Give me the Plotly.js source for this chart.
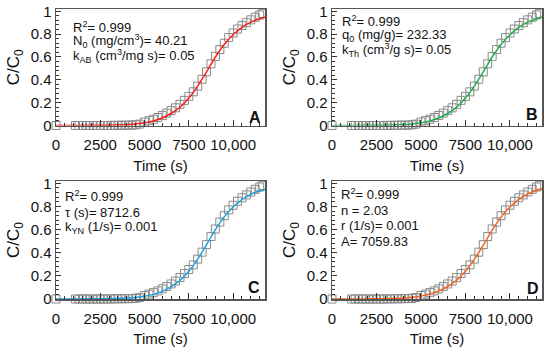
<!DOCTYPE html>
<html>
<head>
<meta charset="utf-8">
<script src="https://cdn.plot.ly/plotly-3.0.1.min.js"></script>
<style>html,body{margin:0;padding:0;background:#fff}#chart{width:550px;height:352px}</style>
</head>
<body>
<div id="chart"></div>
<script>
// Experimental data (shared by all panels)
var timeData = [0, 1100, 1300, 1500, 1700, 1900, 2100, 2300, 2500, 2700, 2900, 3100, 3300, 3500, 3700, 3900, 4100, 4300, 4500, 4700,
                5000, 5250, 5500, 5750, 6000, 6250, 6500, 6750, 7000, 7250, 7500, 7750, 8000, 8250, 8500, 8750, 9000, 9250, 9500, 9750, 10000, 10250, 10500, 10750, 11000, 11250, 11500, 11650];
var ccData = [0, 0, 0, 0, 0, 0, 0, 0, 0, 0, 0, 0.001, 0.001, 0.002, 0.002, 0.003, 0.003, 0.004, 0.006, 0.012,
              0.03, 0.042, 0.055, 0.07, 0.088, 0.108, 0.13, 0.155, 0.185, 0.22, 0.255, 0.295, 0.345, 0.405, 0.47, 0.54, 0.605, 0.665, 0.72, 0.77, 0.81, 0.845, 0.875, 0.9, 0.925, 0.948, 0.968, 0.98];

// Model curves
var timeFit = [0, 500, 1000, 1500, 2000, 2500, 3000, 3500, 4000, 4500, 5000, 5500, 6000, 6500, 7000, 7500, 8000, 8500, 9000, 9500, 10000, 10500, 11000, 11500, 11800];
var fitA = [0, 0, 0.0005, 0.001, 0.0015, 0.002, 0.003, 0.005, 0.008, 0.014, 0.024, 0.04, 0.066, 0.105, 0.16, 0.24, 0.345, 0.47, 0.6, 0.71, 0.795, 0.86, 0.905, 0.935, 0.95];
var fitB = [0, 0, 0.0005, 0.001, 0.0015, 0.002, 0.003, 0.005, 0.008, 0.014, 0.024, 0.04, 0.066, 0.105, 0.16, 0.24, 0.345, 0.47, 0.6, 0.71, 0.795, 0.86, 0.905, 0.935, 0.95];
var fitC = [0, 0, 0.0005, 0.001, 0.0015, 0.002, 0.003, 0.005, 0.008, 0.014, 0.024, 0.04, 0.066, 0.105, 0.16, 0.24, 0.345, 0.47, 0.6, 0.71, 0.795, 0.86, 0.905, 0.935, 0.95];
var fitD = [0, 0, 0, 0, 0.001, 0.002, 0.003, 0.005, 0.008, 0.015, 0.026, 0.043, 0.07, 0.108, 0.162, 0.24, 0.343, 0.465, 0.595, 0.708, 0.795, 0.862, 0.908, 0.94, 0.955];

var fitColors = ['#ff1a1a', '#1fae4b', '#1aa3e0', '#f4641e'];
var panelLetters = ['A', 'B', 'C', 'D'];
var xTickVals = [0, 2500, 5000, 7500, 10000];
var xTickText = ['0', '2500', '5000', '7500', '10,000'];
var yTickVals = [0, 0.2, 0.4, 0.6, 0.8, 1];
var yTickText = ['0', '0.2', '0.4', '0.6', '0.8', '1'];

var panelTexts = [
  ['R<sup>2</sup>= 0.999', 'N<sub>0</sub> (mg/cm<sup>3</sup>)= 40.21', 'k<sub>AB</sub> (cm<sup>3</sup>/mg s)= 0.05'],
  ['R<sup>2</sup>= 0.999', 'q<sub>0</sub> (mg/g)= 232.33', 'k<sub>Th</sub> (cm<sup>3</sup>/g s)= 0.05'],
  ['R<sup>2</sup>= 0.999', '\u03c4 (s)= 8712.6', 'k<sub>YN</sub> (1/s)= 0.001'],
  ['R<sup>2</sup>= 0.999', 'n = 2.03', 'r (1/s)= 0.001', 'A= 7059.83']
];

var W = 550, H = 352;
// pixel boxes [left, right, top, bottom]
var boxes = [[56, 265, 9, 125.5], [332, 542, 9, 125.5], [56, 265, 181, 299], [332, 542, 181, 299]];
var textPos = [[71, 37, 15], [340, 31, 15], [63, 206, 16], [339, 204, 15.7]];
var letterPos = [[255, 117], [532, 114], [254, 287], [533, 288]];
var fits = [fitA, fitB, fitC, fitD];

var font = 'Liberation Sans, Arial, sans-serif';
var traces = [];
var layout = {
  width: W, height: H,
  margin: {l: 0, r: 0, t: 0, b: 0},
  paper_bgcolor: '#fff', plot_bgcolor: '#fff',
  showlegend: false,
  font: {family: font, color: '#111'},
  annotations: []
};

for (var i = 0; i < 4; i++) {
  var sfx = i === 0 ? '' : String(i + 1);
  traces.push({
    x: timeData, y: ccData, type: 'scatter', mode: 'markers',
    xaxis: 'x' + sfx, yaxis: 'y' + sfx, cliponaxis: false,
    marker: {symbol: 'square-open', size: 8, color: '#8a8a8a', line: {width: 1, color: '#8a8a8a'}}
  });
  traces.push({
    x: timeFit, y: fits[i], type: 'scatter', mode: 'lines', line: {shape: 'spline', color: fitColors[i], width: 1.5},
    xaxis: 'x' + sfx, yaxis: 'y' + sfx, cliponaxis: false
  });
  var b = boxes[i];
  layout['xaxis' + sfx] = {
    domain: [b[0] / W, b[1] / W], anchor: 'y' + sfx,
    range: [0, 11800], fixedrange: true,
    tickvals: xTickVals, ticktext: xTickText,
    ticks: 'inside', ticklen: 6, tickwidth: 1, tickcolor: '#333',
    minor: {dtick: 500, ticks: 'inside', ticklen: 3, tickwidth: 1, tickcolor: '#333'},
    showgrid: false, zeroline: false,
    showline: true, linecolor: '#555', linewidth: 1.5, mirror: true,
    ticklabelstandoff: 5,
    tickfont: {size: 15, family: font, color: '#111'},
    title: {text: 'Time (s)', font: {size: 15, family: font, color: '#111'}, standoff: 8}
  };
  layout['yaxis' + sfx] = {
    domain: [1 - b[3] / H, 1 - b[2] / H], anchor: 'x' + sfx,
    range: [0, 1.02], fixedrange: true,
    tickvals: yTickVals, ticktext: yTickText,
    ticks: 'inside', ticklen: 5, tickwidth: 1, tickcolor: '#333',
    minor: {dtick: 0.04, ticks: 'inside', ticklen: 3, tickwidth: 1, tickcolor: '#333'},
    showgrid: false, zeroline: false,
    showline: true, linecolor: '#555', linewidth: 1.5, mirror: true,
    tickfont: {size: 15, family: font, color: '#111'},
    title: {text: 'C/C<sub>0</sub>', font: {size: 17, family: font, color: '#111'}, standoff: 6}
  };
  var tp = textPos[i];
  for (var j = 0; j < panelTexts[i].length; j++) {
    layout.annotations.push({
      xref: 'paper', yref: 'paper', x: tp[0] / W, y: 1 - (tp[1] + j * tp[2]) / H,
      xanchor: 'left', yanchor: 'bottom', showarrow: false,
      text: panelTexts[i][j], font: {size: 13, family: font, color: '#111'}
    });
  }
  layout.annotations.push({
    xref: 'paper', yref: 'paper', x: letterPos[i][0] / W, y: 1 - letterPos[i][1] / H,
    xanchor: 'center', yanchor: 'middle', showarrow: false,
    text: '<b>' + panelLetters[i] + '</b>', font: {size: 16, family: font, color: '#111'}
  });
}

Plotly.newPlot('chart', traces, layout, {staticPlot: true, displayModeBar: false});
</script>
</body>
</html>
